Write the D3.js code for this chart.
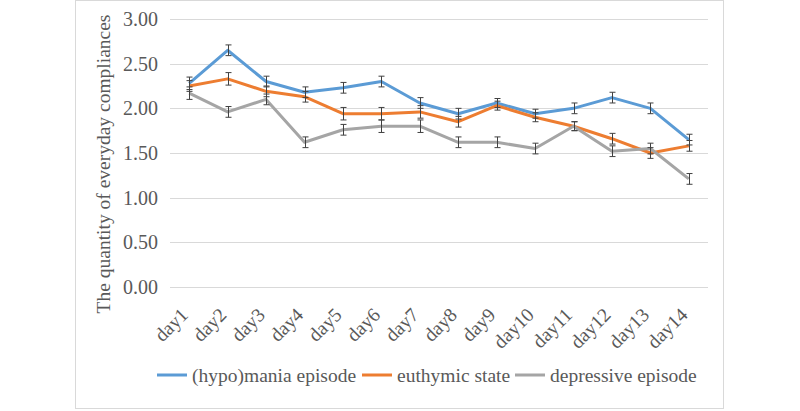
<!DOCTYPE html>
<html lang="en">
<head>
<meta charset="utf-8">
<title>Everyday compliances by mood state</title>
<script src="https://d3js.org/d3.v7.min.js"></script>
<style>
  body { margin: 0; background: #fff; }
  text { font-family: "Liberation Serif", "Times New Roman", serif; fill: #595959; }
</style>
</head>
<body>
<script>
// data
var days = ["day1","day2","day3","day4","day5","day6","day7","day8","day9","day10","day11","day12","day13","day14"];
var mania = [2.28, 2.65, 2.30, 2.18, 2.23, 2.30, 2.06, 1.94, 2.06, 1.94, 2.00, 2.12, 2.00, 1.65];
var euthymic = [2.25, 2.33, 2.19, 2.13, 1.94, 1.94, 1.96, 1.85, 2.03, 1.90, 1.80, 1.66, 1.50, 1.58];
var depressive = [2.17, 1.96, 2.10, 1.62, 1.76, 1.80, 1.80, 1.62, 1.62, 1.55, 1.80, 1.52, 1.55, 1.21];
var errMania = [0.07, 0.06, 0.06, 0.06, 0.06, 0.06, 0.06, 0.06, 0.05, 0.05, 0.06, 0.06, 0.06, 0.06];
var errEuthymic = [0.06, 0.07, 0.06, 0.06, 0.07, 0.07, 0.07, 0.06, 0.05, 0.05, 0.05, 0.06, 0.06, 0.06];
var errDepressive = [0.07, 0.06, 0.06, 0.06, 0.06, 0.07, 0.07, 0.06, 0.06, 0.06, 0.05, 0.06, 0.06, 0.06];
var yTicks = [0, 0.5, 1, 1.5, 2, 2.5, 3];

var series = [
  { name: "(hypo)mania episode", values: mania, err: errMania, color: "#5B9BD5" },
  { name: "euthymic state", values: euthymic, err: errEuthymic, color: "#ED7D31" },
  { name: "depressive episode", values: depressive, err: errDepressive, color: "#A5A5A5" }
];

var w = 800, h = 411;
var plotLeft = 170, plotRight = 708, plotTop = 19, plotBottom = 287;

var svg = d3.select("body").append("svg")
  .attr("width", w)
  .attr("height", h);

// outer frame
svg.append("rect")
  .attr("x", 75.5).attr("y", 0.5)
  .attr("width", 648).attr("height", 408)
  .attr("fill", "#fff")
  .attr("stroke", "#D9D9D9");

var x = d3.scaleBand().domain(days).range([plotLeft, plotRight]);
var y = d3.scaleLinear().domain([0, 3]).range([plotBottom, plotTop]);

// gridlines
svg.append("g").selectAll("line")
  .data(yTicks)
  .enter().append("line")
  .attr("x1", plotLeft).attr("x2", plotRight)
  .attr("y1", function(d) { return Math.round(y(d)) + 0.5; })
  .attr("y2", function(d) { return Math.round(y(d)) + 0.5; })
  .attr("stroke", "#D9D9D9")
  .attr("stroke-width", 1);

// y tick labels
svg.append("g").selectAll("text")
  .data(yTicks)
  .enter().append("text")
  .attr("x", 158)
  .attr("y", function(d) { return y(d); })
  .attr("dy", "0.35em")
  .attr("text-anchor", "end")
  .attr("font-size", "20px")
  .text(function(d) { return d.toFixed(2); });

// x tick labels, rotated
svg.append("g").selectAll("text")
  .data(days)
  .enter().append("text")
  .attr("text-anchor", "end")
  .attr("font-size", "19.5px")
  .attr("transform", function(d) {
    var cx = x(d) + x.bandwidth() / 2;
    return "translate(" + cx + "," + 316 + ") rotate(-45)";
  })
  .text(function(d) { return d; });

// y axis title
svg.append("text")
  .attr("transform", "translate(110,164) rotate(-90)")
  .attr("text-anchor", "middle")
  .attr("font-size", "19.5px")
  .text("The quantity of everyday compliances");

var line = d3.line()
  .x(function(d, i) { return x(days[i]) + x.bandwidth() / 2; })
  .y(function(d) { return y(d); });

// lines
series.forEach(function(s) {
  svg.append("path")
    .datum(s.values)
    .attr("fill", "none")
    .attr("stroke", s.color)
    .attr("stroke-width", 3)
    .attr("stroke-linejoin", "round")
    .attr("d", line);
});

// error bars on top
series.forEach(function(s) {
  var g = svg.append("g")
    .attr("stroke", "#404040")
    .attr("stroke-width", 1);
  s.values.forEach(function(v, i) {
    var cx = Math.round(x(days[i]) + x.bandwidth() / 2) + 0.5;
    var y1 = y(v + s.err[i]), y2 = y(v - s.err[i]);
    g.append("line").attr("x1", cx).attr("x2", cx).attr("y1", y1).attr("y2", y2);
    g.append("line").attr("x1", cx - 3).attr("x2", cx + 3).attr("y1", y1).attr("y2", y1);
    g.append("line").attr("x1", cx - 3).attr("x2", cx + 3).attr("y1", y2).attr("y2", y2);
  });
});

// legend
var legendX = [157, 362, 515];
var legend = svg.append("g").selectAll("g")
  .data(series)
  .enter().append("g")
  .attr("transform", function(d, i) { return "translate(" + legendX[i] + ",375)"; });
legend.append("line")
  .attr("x1", 0).attr("x2", 30)
  .attr("y1", 0).attr("y2", 0)
  .attr("stroke", function(d) { return d.color; })
  .attr("stroke-width", 3);
legend.append("text")
  .attr("x", 35)
  .attr("dy", "0.35em")
  .attr("font-size", "19.5px")
  .text(function(d) { return d.name; });
</script>
</body>
</html>
